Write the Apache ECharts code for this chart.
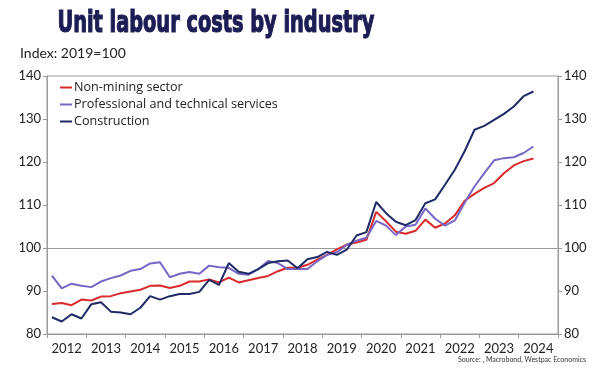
<!DOCTYPE html>
<html><head><meta charset="utf-8">
<script src="https://cdn.jsdelivr.net/npm/echarts@6/dist/echarts.min.js"></script>
<style>html,body{margin:0;padding:0;background:#fff}#c{width:612px;height:392px}</style>
</head><body><div id="c"></div>
<script>
const years = ['2012','2013','2014','2015','2016','2017','2018','2019','2020','2021','2022','2023','2024'];
const yTicks = [80, 90, 100, 110, 120, 130, 140];
const startYear = 2012; // first quarter = 2012 Q1
const nonMining = [87.0,87.2,86.7,88.0,87.8,88.7,88.8,89.5,89.9,90.3,91.2,91.3,90.7,91.2,92.2,92.2,92.7,92.0,93.1,92.0,92.5,93.0,93.5,94.6,95.4,95.4,96.1,97.3,98.4,99.7,100.8,101.3,101.9,108.4,106.2,103.8,103.3,104.0,106.6,104.7,105.7,107.6,111.0,112.6,114.0,115.1,117.4,119.2,120.2,120.8];
const professional = [93.6,90.6,91.7,91.2,90.9,92.2,93.0,93.6,94.7,95.1,96.4,96.7,93.2,94.0,94.4,94.0,95.9,95.5,95.4,94.0,93.8,95.1,97.0,96.5,95.1,95.1,95.1,96.9,98.4,99.0,100.7,101.7,102.4,106.3,105.2,103.0,105.0,105.4,109.2,106.8,105.2,106.4,110.5,114.3,117.4,120.4,120.9,121.1,122.1,123.6];
const construction = [83.9,82.9,84.6,83.6,86.9,87.4,85.2,85.0,84.6,86.1,88.8,88.0,88.8,89.3,89.3,89.8,92.6,91.4,96.5,94.5,94.0,95.1,96.5,96.9,97.1,95.3,97.4,97.9,99.1,98.4,99.6,102.9,103.7,110.7,108.1,106.1,105.3,106.5,110.4,111.3,114.7,118.2,122.5,127.5,128.4,129.8,131.2,132.9,135.3,136.4];
const seriesNames = ['Non-mining sector','Professional and technical services','Construction'];
const titleText = 'Unit labour costs by industry';
const subtitleText = 'Index: 2019=100';
const sourceText = 'Source: , Macrobond, Westpac Economics';

function toXY(arr){ return arr.map((v,i)=>[startYear + (i+0.5)/4, v]); }

// measure title to condense it horizontally
const cv = document.createElement('canvas').getContext('2d');
const titleFont = 'bold 31px "DejaVu Sans Condensed"';
cv.font = titleFont;
const tw = cv.measureText(titleText).width;
const titleScale = 317 / tw;

const chart = echarts.init(document.getElementById('c'), null, {renderer:'canvas'});
const axisGray = '#9a9a9a';
const labelStyle = {color:'#222', fontFamily:'Lato', fontSize:13};
const yAxisBase = {
  type:'value', min:80, max:140, interval:10,
  axisLine:{show:true, lineStyle:{color:axisGray, width:1}},
  axisTick:{show:true, length:4, lineStyle:{color:axisGray}},
  splitLine:{show:false},
  axisLabel:Object.assign({margin:6}, labelStyle)
};
chart.setOption({
  animation:false,
  backgroundColor:'#fff',
  graphic:[
    {type:'text', left:57, top:8, scaleX:titleScale, originX:0,
      style:{text:titleText, font:titleFont, fill:'#1d1d55', stroke:'#1d1d55', lineWidth:1.2}},
    {type:'text', left:20, top:46, style:{text:subtitleText, font:'14px Lato', fill:'#222'}},
    {type:'text', right:26, top:356, style:{text:sourceText, font:'7px Lato', fill:'#333'}}
  ],
  grid:{left:47, right:54, top:76, bottom:58, show:true, borderColor:axisGray, borderWidth:1, backgroundColor:'transparent'},
  legend:{
    orient:'vertical', left:60, top:80, padding:0, itemGap:2, itemWidth:12, itemHeight:2,
    icon:'rect', textStyle:{color:'#222', fontFamily:'Open Sans', fontSize:12.6, lineHeight:15, padding:[0,0,0,-3]},
    data:seriesNames
  },
  xAxis:[
    {type:'category', data:years, boundaryGap:true, position:'bottom',
      axisLine:{show:true, lineStyle:{color:axisGray}},
      axisTick:{show:true, length:4, interval:0, lineStyle:{color:axisGray}},
      axisLabel:Object.assign({interval:0, margin:8}, labelStyle)},
    {type:'value', min:2012, max:2025, show:false}
  ],
  yAxis:[
    Object.assign({position:'left'}, yAxisBase),
    Object.assign({position:'right'}, yAxisBase)
  ],
  series:[
    {name:seriesNames[0], type:'line', xAxisIndex:1, yAxisIndex:0, data:toXY(nonMining), symbol:'none',
      lineStyle:{color:'#d92b2b', width:2}, itemStyle:{color:'#d92b2b'}, z:3,
      markLine:{silent:true, symbol:'none', label:{show:false}, lineStyle:{color:axisGray, width:1, type:'solid'}, data:[{yAxis:100}], z:1}},
    {name:seriesNames[1], type:'line', xAxisIndex:1, yAxisIndex:0, data:toXY(professional), symbol:'none',
      lineStyle:{color:'#7766c4', width:2}, itemStyle:{color:'#7766c4'}, z:4},
    {name:seriesNames[2], type:'line', xAxisIndex:1, yAxisIndex:0, data:toXY(construction), symbol:'none',
      lineStyle:{color:'#1f2a66', width:2}, itemStyle:{color:'#1f2a66'}, z:5}
  ]
});
</script></body></html>
